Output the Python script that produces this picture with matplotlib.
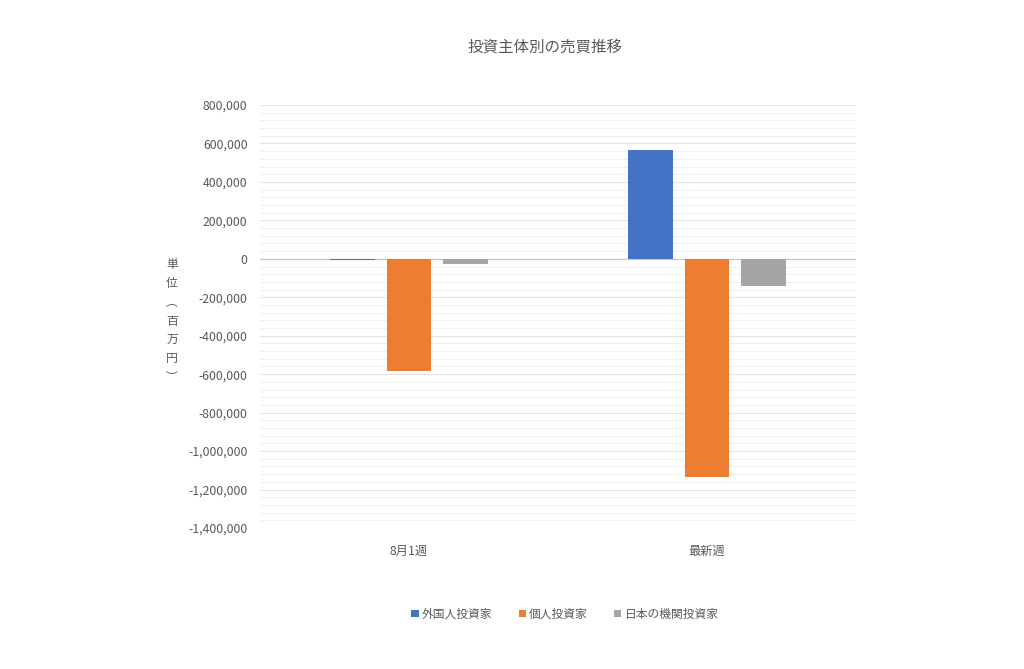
import matplotlib
matplotlib.use("Agg")
import matplotlib.pyplot as plt
from matplotlib.ticker import MultipleLocator, FuncFormatter
import numpy as np

plt.rcParams['font.family'] = ['Noto Sans CJK JP', 'DejaVu Sans']

title = "投資主体別の売買推移"
categories = ["8月1週", "最新週"]
series_names = ["外国人投資家", "個人投資家", "日本の機関投資家"]
foreign = [-8000, 568000]
individual = [-582000, -1135000]
institutional = [-28000, -139000]
colors = ["#4472C4", "#ED7D31", "#A5A5A5"]
ylabel_chars = ["単", "位", "︵", "百", "万", "円", "︶"]

fig = plt.figure(figsize=(10.24, 6.69), dpi=100)
ax = fig.add_axes([260/1024, 1-528/669, 596/1024, 423/669])

x = np.arange(len(categories))
width = 0.15
offsets = [-0.19, 0.0, 0.19]
for vals, off, c, name in zip([foreign, individual, institutional], offsets, colors, series_names):
    ax.bar(x + off, vals, width, color=c, label=name, zorder=3)

ax.set_xlim(-0.5, 1.5)
ax.set_ylim(-1400000, 800000)
ax.yaxis.set_major_locator(MultipleLocator(200000))
ax.yaxis.set_minor_locator(MultipleLocator(40000))
ax.yaxis.set_major_formatter(FuncFormatter(lambda v, p: f"{int(round(v)):,}"))
ax.grid(which='major', axis='y', color='#e4e4e4', linewidth=0.8, zorder=0)
ax.grid(which='minor', axis='y', color='#f0f0f0', linewidth=0.8, zorder=0)
ax.axhline(0, color='#c8c8c8', linewidth=0.9, zorder=2)
for s in ax.spines.values():
    s.set_visible(False)
ax.tick_params(axis='y', which='both', length=0, labelsize=8.8, labelcolor='#595959', pad=9)
ax.tick_params(axis='x', length=0, labelsize=8.8, labelcolor='#595959', pad=12)
ax.set_xticks(x)
ax.set_xticklabels(categories)

fig.text(545/1024, 1-47/669, title, ha='center', va='center', fontsize=11.2, color='#595959')
fig.text(172/1024, 1-321/669, "\n".join(ylabel_chars), ha='center', va='center',
         fontsize=8.5, color='#595959', linespacing=1.58)

leg = fig.legend(loc='center', bbox_to_anchor=(565/1024, 1-614/669), ncol=3, frameon=False,
                 fontsize=8.5, handlelength=0.6, handleheight=0.6, handletextpad=0.3,
                 columnspacing=2.2, labelcolor='#595959')

fig.savefig("out.png", dpi=100, facecolor='white')
